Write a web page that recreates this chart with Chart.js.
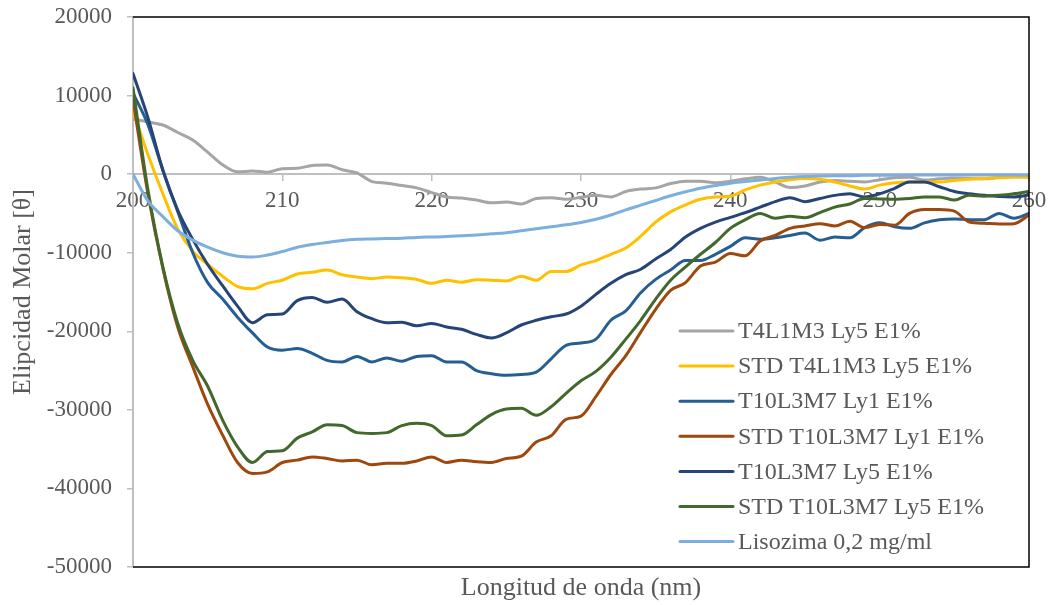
<!DOCTYPE html>
<html>
<head>
<meta charset="utf-8">
<script src="https://cdn.jsdelivr.net/npm/chart.js@4.4.1/dist/chart.umd.min.js"></script>
<style>
  html, body { margin: 0; padding: 0; background: #ffffff; }
  #wrap { width: 1054px; height: 605px; }
</style>
</head>
<body>
<div id="wrap"><canvas id="cd" width="1054" height="605"></canvas></div>
<script>
// Wavelength (nm) and mean residue ellipticity for each sample
const wavelength = [
  200, 201, 202, 203, 204, 205, 206, 207, 208, 209,
  210, 211, 212, 213, 214, 215, 216, 217, 218, 219,
  220, 221, 222, 223, 224, 225, 226, 227, 228, 229,
  230, 231, 232, 233, 234, 235, 236, 237, 238, 239,
  240, 241, 242, 243, 244, 245, 246, 247, 248, 249,
  250, 251, 252, 253, 254, 255, 256, 257, 258, 259, 260
];

const t4l1m3Ly5 = [
  7000, 6650, 6250, 5300, 4350, 2800, 1200, 300, 400, 250,
  700, 750, 1100, 1150, 550, 150, -950, -1150, -1450, -1750,
  -2350, -2900, -3050, -3300, -3650, -3550, -3800, -3100, -3000, -3200,
  -2950, -2700, -2900, -2200, -1900, -1750, -1200, -900, -900, -1100,
  -900, -600, -400, -1000, -1700, -1500, -1000, -800, -900, -1000,
  -700, -450, -400, -750, -600, -500, -550, -600, -400, -250, -350
];

const stdT4l1m3Ly5 = [
  8000, 2500, -2500, -7000, -9800, -11500, -13000, -14300, -14600, -13900,
  -13500, -12700, -12500, -12200, -12800, -13100, -13300, -13100, -13200, -13400,
  -13900, -13500, -13750, -13450, -13500, -13600, -13000, -13500, -12400, -12400,
  -11550, -11000, -10200, -9400, -7900, -6100, -4800, -3900, -3200, -2900,
  -2800, -2000, -1400, -1000, -700, -550, -650, -1000, -1500, -1900,
  -1400, -1100, -1000, -1000, -1000, -800, -650, -550, -450, -400, -380
];

const t10l3m7Ly1 = [
  10300, 6300, 500, -4800, -10000, -13800, -15900, -18200, -20200, -22000,
  -22400, -22200, -22800, -23700, -23900, -23200, -23900, -23400, -23800, -23200,
  -23100, -23900, -23900, -25000, -25400, -25600, -25500, -25200, -23500, -21800,
  -21500, -21000, -18600, -17400, -15100, -13400, -12200, -11000, -11000, -10200,
  -9200, -8100, -8300, -8100, -7800, -7500, -8400, -8000, -8100, -6800,
  -6200, -6700, -6900, -6200, -5800, -5700, -5800, -5800, -5000, -5600, -5000
];

const stdT10l3m7Ly1 = [
  9500, -2500, -12000, -19500, -24500, -29300, -33200, -36700, -38100, -37900,
  -36700, -36400, -36000, -36200, -36500, -36400, -37000, -36800, -36800, -36500,
  -36000, -36700, -36400, -36600, -36700, -36200, -35900, -34100, -33300, -31200,
  -30800, -28300, -25500, -23100, -20100, -17200, -14800, -13800, -11700, -11200,
  -10100, -10400, -8500, -7800, -6900, -6600, -6300, -6600, -6000, -6800,
  -6400, -6500, -5000, -4500, -4500, -4700, -6100, -6250, -6350, -6300, -5200
];

const t10l3m7Ly5 = [
  12800, 7200, 500, -4600, -8300, -11500, -14200, -16800, -18900, -17900,
  -17800, -16100, -15700, -16300, -15900, -17500, -18400, -18900, -18850, -19300,
  -19000, -19450, -19750, -20400, -20850, -20200, -19200, -18600, -18150, -17800,
  -16800, -15300, -13900, -12800, -12100, -10800, -9600, -8000, -6900, -6100,
  -5500, -4900, -4200, -3500, -3000, -3500, -3100, -2700, -2500, -2900,
  -2500, -1800, -1000, -1000, -1600, -2200, -2500, -2700, -2850, -2900, -2650
];

const stdT10l3m7Ly5 = [
  11000, -2000, -11800, -19000, -23700, -27000, -31300, -34700, -36700, -35300,
  -35200, -33600, -32800, -31900, -32000, -32900, -33000, -32900, -32000, -31700,
  -32000, -33300, -33200, -31900, -30600, -29900, -29800, -30700, -29600, -27900,
  -26300, -25100, -23300, -21000, -18600, -15900, -13500, -11800, -10200, -8700,
  -6900, -5800, -5000, -5600, -5350, -5550, -4900, -4200, -3800, -3100,
  -3150, -3200, -3100, -2900, -2900, -3300, -2700, -2800, -2700, -2500, -2200
];

const lisozima = [
  0, -3400, -5400, -7200, -8400, -9300, -10000, -10450, -10550, -10300,
  -9850, -9300, -8950, -8700, -8450, -8300, -8250, -8200, -8150, -8050,
  -8000, -7950, -7850, -7750, -7600, -7450, -7200, -6950, -6700, -6450,
  -6150, -5750, -5200, -4550, -3950, -3350, -2750, -2250, -1800, -1450,
  -1150, -950, -750, -550, -400, -300, -250, -200, -200, -150,
  -150, -150, -100, -100, -100, -100, -100, -100, -100, -100, -150
];

const seriesNames = [
  'T4L1M3 Ly5 E1%',
  'STD T4L1M3 Ly5 E1%',
  'T10L3M7 Ly1 E1%',
  'STD T10L3M7 Ly1 E1%',
  'T10L3M7 Ly5 E1%',
  'STD T10L3M7 Ly5 E1%',
  'Lisozima 0,2 mg/ml'
];
const seriesValues = [t4l1m3Ly5, stdT4l1m3Ly5, t10l3m7Ly1, stdT10l3m7Ly1, t10l3m7Ly5, stdT10l3m7Ly5, lisozima];
const seriesColors = ['#A5A5A5', '#FFC000', '#255E91', '#9E480E', '#264478', '#43682B', '#7CAFDD'];

const xTicks = [200, 210, 220, 230, 240, 250, 260];
const yTicks = [-50000, -40000, -30000, -20000, -10000, 0, 10000, 20000];

const TEXT = '#595959';
const SERIF = '"Liberation Serif", "Times New Roman", serif';

const datasets = seriesNames.map((name, i) => ({
  label: name,
  data: wavelength.map((w, k) => ({ x: w, y: seriesValues[i][k] })),
  borderColor: seriesColors[i],
  backgroundColor: seriesColors[i],
  borderWidth: 3,
  pointRadius: 0,
  fill: false,
  cubicInterpolationMode: 'monotone',
  borderCapStyle: 'round',
  borderJoinStyle: 'round',
  order: seriesNames.length - 1 - i
}));

// Plot frame: black top/right/bottom edges
const framePlugin = {
  id: 'frame',
  afterDatasetsDraw(chart) {
    const { ctx, chartArea: a } = chart;
    ctx.save();
    ctx.strokeStyle = '#000000';
    ctx.lineWidth = 1.5;
    ctx.beginPath();
    ctx.moveTo(a.left, a.top);
    ctx.lineTo(a.right, a.top);
    ctx.lineTo(a.right, a.bottom);
    ctx.lineTo(a.left, a.bottom);
    ctx.stroke();
    ctx.restore();
  }
};

// Legend inside the plot, bottom right, plus the x axis title
const legendPlugin = {
  id: 'insideLegend',
  afterDraw(chart) {
    const { ctx, chartArea: a } = chart;
    ctx.save();
    ctx.font = '24px ' + SERIF;
    ctx.textBaseline = 'middle';
    ctx.textAlign = 'left';
    const x0 = 680, x1 = 733, tx = 738, y0 = 331, step = 35.1;
    chart.data.datasets.forEach((ds, i) => {
      const y = y0 + i * step;
      ctx.strokeStyle = ds.borderColor;
      ctx.lineWidth = 3;
      ctx.lineCap = 'round';
      ctx.beginPath();
      ctx.moveTo(x0, y);
      ctx.lineTo(x1, y);
      ctx.stroke();
      ctx.fillStyle = TEXT;
      ctx.fillText(ds.label, tx, y + 1);
    });
    ctx.font = '26px ' + SERIF;
    ctx.textAlign = 'center';
    ctx.fillStyle = TEXT;
    ctx.fillText('Longitud de onda (nm)', (a.left + a.right) / 2, 588);
    ctx.restore();
  }
};

new Chart(document.getElementById('cd'), {
  type: 'line',
  data: { datasets },
  options: {
    responsive: false,
    animation: false,
    events: [],
    layout: { padding: { top: 17, right: 25, bottom: 38, left: 0 } },
    plugins: { legend: { display: false }, tooltip: { enabled: false } },
    scales: {
      x: {
        type: 'linear',
        min: 200,
        max: 260,
        position: { y: 0 },
        afterBuildTicks: s => { s.ticks = xTicks.map(v => ({ value: v })); },
        afterFit: s => { s.paddingLeft = 0; s.paddingRight = 0; },
        ticks: {
          color: TEXT,
          font: { family: SERIF, size: 23 },
          padding: 7,
          maxRotation: 0,
          autoSkip: false,
          callback: v => String(v)
        },
        grid: { drawOnChartArea: false, drawTicks: true, tickLength: 6, color: '#BFBFBF', lineWidth: 1.5 },
        border: { color: '#BFBFBF', width: 2 }
      },
      y: {
        min: -50000,
        max: 20000,
        afterBuildTicks: s => { s.ticks = yTicks.map(v => ({ value: v })); },
        afterFit: s => { s.width = 133; s.paddingTop = 0; s.paddingBottom = 0; },
        ticks: {
          color: TEXT,
          font: { family: SERIF, size: 23 },
          padding: 15,
          autoSkip: false,
          callback: v => String(v)
        },
        grid: { drawOnChartArea: false, drawTicks: true, tickLength: 6, color: '#BFBFBF', lineWidth: 1.5 },
        border: { color: '#BFBFBF', width: 2 },
        title: {
          display: true,
          text: 'Elipcidad Molar [θ]',
          color: TEXT,
          font: { family: SERIF, size: 26 },
          padding: { top: 8, bottom: 0 }
        }
      }
    }
  },
  plugins: [framePlugin, legendPlugin]
});
</script>
</body>
</html>
